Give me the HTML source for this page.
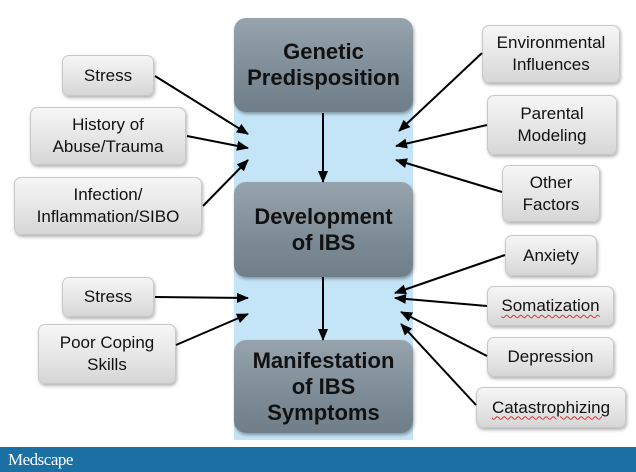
<!DOCTYPE html>
<html><head><meta charset="utf-8"><style>
*{margin:0;padding:0;box-sizing:border-box}
body{width:636px;height:472px;background:#fff;position:relative;overflow:hidden;font-family:"Liberation Sans",Arial,sans-serif}
.band{position:absolute;left:234px;top:100px;width:179px;height:340px;background:#c4e4f7}
.c{position:absolute;left:234px;width:179px;border-radius:12px;background:linear-gradient(#97a4ae,#7d8b96 60%,#707e89);box-shadow:1px 2px 3px rgba(0,0,0,.35);display:flex;align-items:center;justify-content:center;text-align:center;font-weight:bold;font-size:22px;line-height:26px;color:#111}
.s{position:absolute;border-radius:7px;background:linear-gradient(#f6f6f6,#e4e4e4 60%,#d6d6d6);border:1px solid #c8c8c8;box-shadow:1px 2px 3px rgba(0,0,0,.3);display:flex;align-items:center;justify-content:center;text-align:center;font-size:17px;line-height:22px;color:#111}
.u{text-decoration:underline wavy #d33;text-decoration-thickness:1px;text-underline-offset:3px}
.bar{position:absolute;left:0;top:447px;width:636px;height:25px;background:#1a6fa3;color:#fff;font-family:"Liberation Serif",serif;font-size:17px;padding:3px 0 0 8px;letter-spacing:-0.5px}
svg{position:absolute;left:0;top:0}
</style></head><body>
<div class="band"></div>
<div class="c" style="top:18px;height:94px">Genetic<br>Predisposition</div>
<div class="c" style="top:182px;height:95px">Development<br>of IBS</div>
<div class="c" style="top:340px;height:93px">Manifestation<br>of IBS<br>Symptoms</div>

<div class="s" style="left:62px;top:55px;width:92px;height:41px">Stress</div>
<div class="s" style="left:30px;top:107px;width:156px;height:58px">History of<br>Abuse/Trauma</div>
<div class="s" style="left:14px;top:177px;width:188px;height:58px">Infection/<br>Inflammation/SIBO</div>
<div class="s" style="left:62px;top:277px;width:92px;height:40px">Stress</div>
<div class="s" style="left:38px;top:324px;width:138px;height:60px">Poor Coping<br>Skills</div>

<div class="s" style="left:482px;top:25px;width:138px;height:58px">Environmental<br>Influences</div>
<div class="s" style="left:487px;top:95px;width:130px;height:60px">Parental<br>Modeling</div>
<div class="s" style="left:502px;top:165px;width:98px;height:57px">Other<br>Factors</div>
<div class="s" style="left:505px;top:235px;width:92px;height:41px">Anxiety</div>
<div class="s" style="left:487px;top:286px;width:127px;height:40px"><span class="u">Somatization</span></div>
<div class="s" style="left:487px;top:337px;width:127px;height:40px">Depression</div>
<div class="s" style="left:476px;top:387px;width:150px;height:41px"><span class="u">Catastrophizing</span></div>

<svg width="636" height="472">
<defs><marker id="a" markerWidth="12" markerHeight="10" refX="11" refY="5" orient="auto" markerUnits="userSpaceOnUse"><path d="M0,0 L12,5 L0,10 z" fill="#000"/></marker></defs>
<g stroke="#000" stroke-width="2" marker-end="url(#a)">
<line x1="323" y1="113" x2="323" y2="182"/>
<line x1="323" y1="277" x2="323" y2="340"/>
<line x1="155" y1="76" x2="248" y2="134"/>
<line x1="187" y1="136" x2="248" y2="148"/>
<line x1="203" y1="206" x2="248" y2="160"/>
<line x1="155" y1="297" x2="248" y2="298"/>
<line x1="176" y1="345" x2="248" y2="314"/>
<line x1="482" y1="53" x2="399" y2="131"/>
<line x1="487" y1="125" x2="396" y2="146"/>
<line x1="502" y1="192" x2="396" y2="160"/>
<line x1="505" y1="255" x2="395" y2="293"/>
<line x1="487" y1="306" x2="395" y2="298"/>
<line x1="487" y1="356" x2="401" y2="312"/>
<line x1="476" y1="405" x2="401" y2="324"/>
</g></svg>
<div class="bar">Medscape</div>
</body></html>
